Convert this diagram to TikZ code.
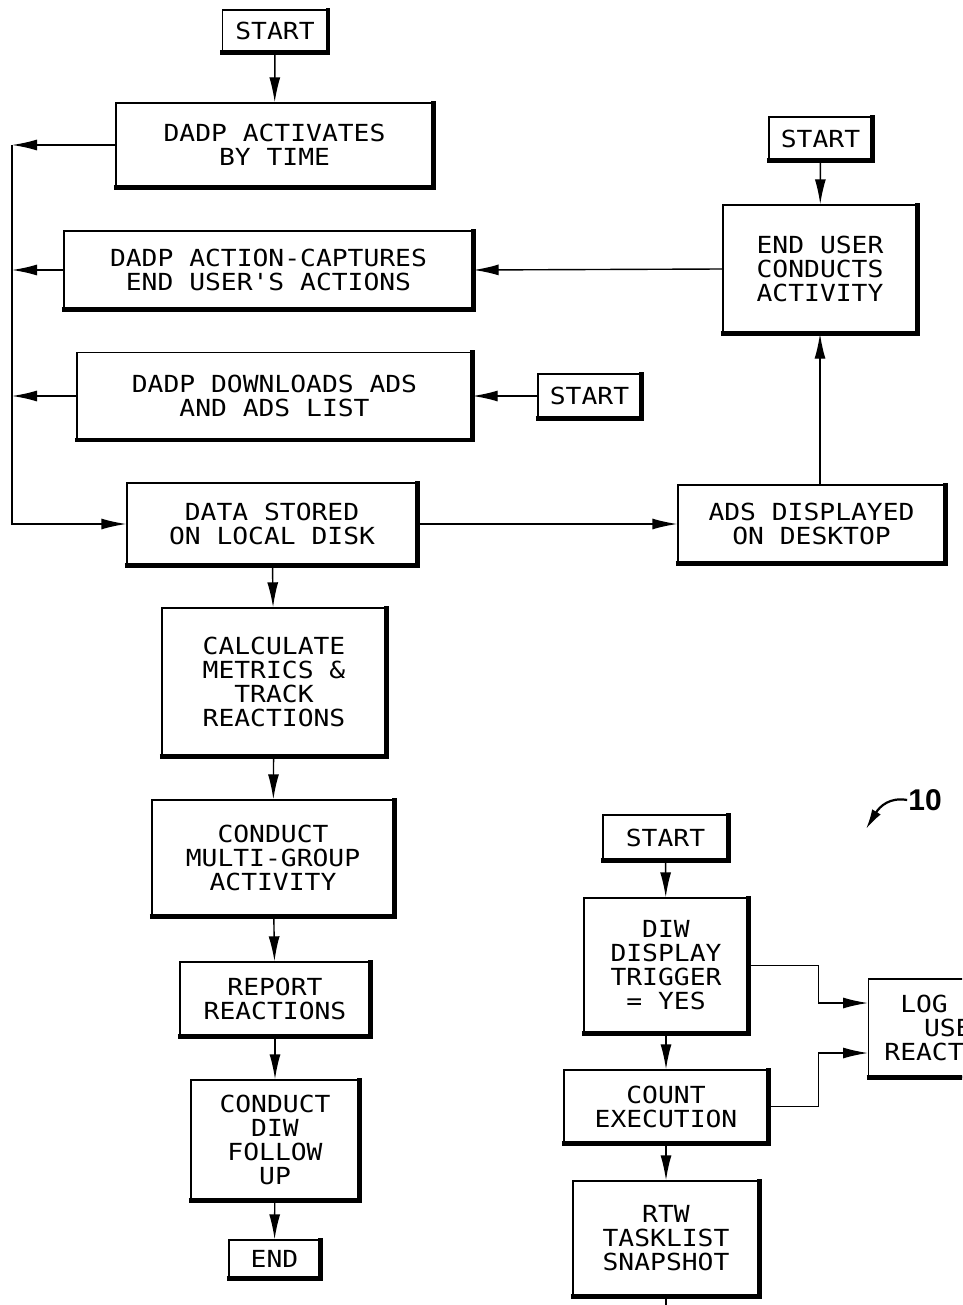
\documentclass[tikz,border=0pt]{standalone}
\usepackage{fontspec}
\setmonofont{DejaVu Sans Mono}[FakeStretch=1.12]
\setsansfont{Liberation Sans}
\usetikzlibrary{arrows.meta,positioning}

\begin{document}
\begin{tikzpicture}[x=1pt, y=-1pt,
    font=\ttfamily\fontsize{23.5}{24}\selectfont,
    blk/.style={rectangle, draw, line width=1.4pt, align=center, inner sep=0pt},
    ar/.style={line width=1.4pt, -{Latex[length=25pt,width=11pt]}},
    ln/.style={line width=1.4pt},
    shade/.style={line width=4.5pt}]
    \useasboundingbox (0,0) rectangle (962,1305);
    \clip (0,0) rectangle (962,1305);
    % left column
    \node [blk, minimum width=105, minimum height=42] (s1) at (275,31) {START};
    \node [blk, minimum width=317, minimum height=84] (act) at (274.5,145) {DADP ACTIVATES\\BY TIME};
    \node [blk, minimum width=409, minimum height=78] (capt) at (268.5,270) {DADP ACTION-CAPTURES\\END USER'S ACTIONS};
    \node [blk, minimum width=395, minimum height=87] (dl) at (274.5,396) {DADP DOWNLOADS ADS\\AND ADS LIST};
    \node [blk, minimum width=290, minimum height=82] (store) at (272,524) {DATA STORED\\ON LOCAL DISK};
    \node [blk, minimum width=224, minimum height=148] (calc) at (274,682) {CALCULATE\\METRICS \&\\TRACK\\REACTIONS};
    \node [blk, minimum width=242, minimum height=116] (multi) at (273,858) {CONDUCT\\MULTI-GROUP\\ACTIVITY};
    \node [blk, minimum width=190, minimum height=74] (report) at (275,999) {REPORT\\REACTIONS};
    \node [blk, minimum width=168, minimum height=120] (follow) at (275,1140) {CONDUCT\\DIW\\FOLLOW\\UP};
    \node [blk, minimum width=91, minimum height=38] (fin) at (274.5,1259) {END};
    % right column
    \node [blk, minimum width=103, minimum height=43] (s2) at (820.5,138.5) {START};
    \node [blk, minimum width=194, minimum height=128] (user) at (820,269) {END USER\\CONDUCTS\\ACTIVITY};
    \node [blk, minimum width=103, minimum height=44] (s3) at (589.5,396) {START};
    \node [blk, minimum width=267, minimum height=78] (ads) at (811.5,524) {ADS DISPLAYED\\ON DESKTOP};
    % lower right
    \node [blk, minimum width=125, minimum height=45] (s4) at (665.5,837.5) {START};
    \node [blk, minimum width=164, minimum height=135] (diw) at (666,965.5) {DIW\\DISPLAY\\TRIGGER\\= YES};
    \node [blk, minimum width=204, minimum height=73] (count) at (666,1106.5) {COUNT\\EXECUTION};
    \node [blk, minimum width=186, minimum height=115] (rtw) at (666,1238.5) {RTW\\TASKLIST\\SNAPSHOT};
    \node [blk, minimum width=174, minimum height=98, anchor=west] (log) at (868,1028) {LOG END\\USER\\REACTIONS};
    \node [font=\sffamily\bfseries\fontsize{30}{30}\selectfont, inner sep=1pt] (ten) at (925,800) {10};
    % heavy lower and right edges
    \foreach \n in {s1,act,capt,dl,store,calc,multi,report,follow,fin,s2,user,s3,ads,s4,diw,count,rtw,log}
        \draw [shade] ([xshift=-1.5pt]\n.south west) -- (\n.south east) -- ([yshift=1.5pt]\n.north east);
    % connectors
    \coordinate (bus) at (12,145);
    \coordinate (rtwout) at (666,1310);
    \coordinate (tentip) at (866,829);
    \draw [ar] (s1) -- (act);
    \draw [ar] (act.west) -- (bus);
    \draw [ar] (capt.west) -- (capt.west -| bus);
    \draw [ar] (dl.west) -- (dl.west -| bus);
    \draw [ar] (bus) |- (store.west);
    \draw [ar] (s2) -- (user);
    \draw [ar] (user.west) -- (capt.east);
    \draw [ar] (s3.west) -- (dl.east);
    \draw [ar] (store.east) -- (ads.west);
    \draw [ar] (user.south |- ads.north) -- (user.south);
    \draw [ar] (store) -- (calc);
    \draw [ar] (calc) -- (multi);
    \draw [ar] (multi) -- (report);
    \draw [ar] (report) -- (follow);
    \draw [ar] (follow) -- (fin);
    \draw [ar] (s4) -- (diw);
    \draw [ar] (diw) -- (count);
    \draw [ar] (count) -- (rtw);
    \draw [ln] (rtw.south) -- (rtwout);
    \draw [ar] (diw.east) -- ++(70,0) |- ([yshift=25pt]log.west);
    \draw [ar] (count.east) -- ++(50,0) |- ([yshift=-25pt]log.west);
    \draw [line width=2.2pt, -{Latex[length=20pt,width=10pt]}] (ten.west) .. controls (890,797) and (880,806) .. (tentip);
\end{tikzpicture}
\end{document}
